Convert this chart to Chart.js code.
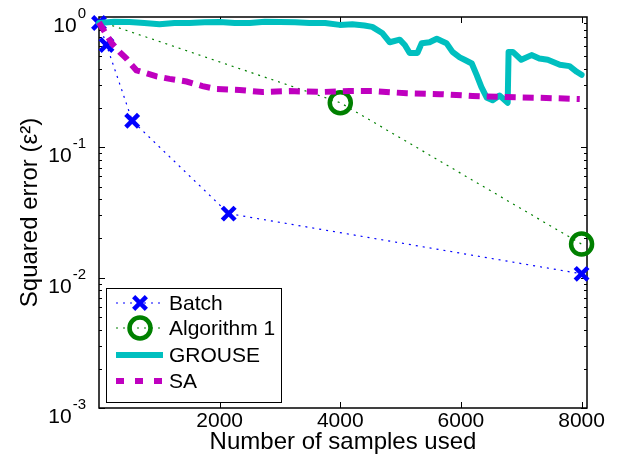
<!DOCTYPE html>
<html>
<head>
<meta charset="utf-8">
<script src="https://cdn.jsdelivr.net/npm/chart.js@4.4.1/dist/chart.umd.min.js"></script>
<style>
  body { margin: 0; background: #fff; }
  #wrap { width: 617px; height: 459px; }
</style>
</head>
<body>
<div id="wrap"><canvas id="myChart" width="617" height="459"></canvas></div>
<script>
// data
const batchX = [0, 124, 550, 2150, 8000];
const batchY = [0.90, 0.61, 0.16, 0.031, 0.0107];

const algX = [0, 4000, 8000];
const algY = [0.93, 0.22, 0.0181];
// the first point of Algorithm 1 has no visible marker
const algMarks = [0, 1, 1];

const grouseX = [0, 250, 506, 750, 1003, 1250, 1500, 1750, 2000, 2250, 2500, 2750, 3000, 3250, 3490, 3750, 3990, 4200, 4400, 4530, 4700, 4820, 4985, 5070, 5150, 5280, 5350, 5480, 5600, 5760, 5860, 5980, 6060, 6180, 6260, 6340, 6430, 6525, 6640, 6775, 6790, 6860, 7000, 7170, 7300, 7440, 7640, 7800, 7920, 8000];
const grouseY = [0.90, 0.92, 0.915, 0.90, 0.88, 0.90, 0.90, 0.91, 0.915, 0.90, 0.90, 0.92, 0.915, 0.91, 0.90, 0.90, 0.87, 0.88, 0.86, 0.84, 0.75, 0.64, 0.67, 0.61, 0.53, 0.53, 0.63, 0.64, 0.68, 0.63, 0.54, 0.49, 0.47, 0.44, 0.36, 0.29, 0.24, 0.23, 0.25, 0.22, 0.54, 0.54, 0.47, 0.51, 0.48, 0.47, 0.43, 0.42, 0.38, 0.36];

const saX = [0, 124, 224, 340, 456, 540, 620, 788, 954, 1170, 1450, 1716, 1950, 2330, 2710, 3160, 3700, 4150, 4540, 5100, 5650, 6190, 6760, 7310, 7970];
const saY = [0.91, 0.73, 0.62, 0.54, 0.48, 0.43, 0.39, 0.37, 0.35, 0.335, 0.32, 0.295, 0.28, 0.275, 0.266, 0.27, 0.266, 0.27, 0.27, 0.26, 0.256, 0.248, 0.243, 0.24, 0.235];

const xTicks = [2000, 4000, 6000, 8000];
const yTicks = [1, 0.1, 0.01, 0.001];
const yExponents = ['0', '-1', '-2', '-3'];

const seriesNames = ['Batch', 'Algorithm 1', 'GROUSE', 'SA'];

const FONT = "'Liberation Sans', Arial, Helvetica, sans-serif";
const MARK_X = 9, MARK_O = 10.5;

function pts(xs, ys) {
    return xs.map(function(v, i) { return {x: v, y: ys[i]}; });
}

// box, inward ticks and 10^n labels like matlab
const matlabAxes = {
    id: 'matlabAxes',
    beforeDatasetsDraw(chart) {
        const ctx = chart.ctx;
        const a = chart.chartArea;
        const x = chart.scales.x, y = chart.scales.y;
        ctx.save();
        ctx.strokeStyle = '#000';
        ctx.lineWidth = 1;
        function seg(x1, y1, x2, y2) {
            ctx.beginPath(); ctx.moveTo(x1, y1); ctx.lineTo(x2, y2); ctx.stroke();
        }
        xTicks.forEach(function(v) {
            const px = Math.round(x.getPixelForValue(v)) + 0.5;
            seg(px, a.bottom, px, a.bottom - 6);
            seg(px, a.top, px, a.top + 6);
        });
        for (let d = -3; d < 0; d++) {
            for (let m = 1; m < 10; m++) {
                const py = Math.round(y.getPixelForValue(m * Math.pow(10, d))) + 0.5;
                const len = m === 1 ? 6 : 3;
                seg(a.left, py, a.left + len, py);
                seg(a.right, py, a.right - len, py);
            }
        }
        ctx.lineWidth = 1.5;
        ctx.strokeRect(a.left, a.top, a.right - a.left, a.bottom - a.top);

        // y labels
        ctx.fillStyle = '#000';
        ctx.textBaseline = 'alphabetic';
        ctx.textAlign = 'left';
        yTicks.forEach(function(v, i) {
            const py = y.getPixelForValue(v);
            ctx.font = '21px ' + FONT;
            const wb = ctx.measureText('10').width;
            ctx.font = '15px ' + FONT;
            const we = ctx.measureText(yExponents[i]).width;
            const x0 = a.left - 13 - wb - we - 1;
            ctx.font = '21px ' + FONT;
            ctx.fillText('10', x0, py + 15);
            ctx.font = '15px ' + FONT;
            ctx.fillText(yExponents[i], x0 + wb + 1, py + 1);
        });
        ctx.restore();
    }
};

const boxLegend = {
    id: 'boxLegend',
    afterDatasetsDraw(chart) {
        const ctx = chart.ctx;
        const left = 106, top = 288, right = 281, bottom = 402;
        const rows = [303, 328, 355, 381];
        const marks = [MARK_X, MARK_O, 0, 0];
        ctx.save();
        ctx.fillStyle = '#fff';
        ctx.fillRect(left, top, right - left, bottom - top);
        ctx.strokeStyle = '#000';
        ctx.lineWidth = 1;
        ctx.strokeRect(left + 0.5, top + 0.5, right - left, bottom - top);
        chart.data.datasets.forEach(function(ds, i) {
            const yy = rows[i];
            ctx.save();
            ctx.strokeStyle = ds.borderColor;
            ctx.lineWidth = ds.borderWidth;
            ctx.setLineDash(i === 3 ? [8, 11] : (ds.borderDash || []));
            ctx.beginPath(); ctx.moveTo(116, yy); ctx.lineTo(163, yy); ctx.stroke();
            ctx.restore();
            if (marks[i] > 0) {
                ctx.save();
                ctx.strokeStyle = ds.pointBorderColor;
                ctx.fillStyle = 'rgba(0,0,0,0)';
                ctx.lineWidth = ds.pointBorderWidth;
                Chart.helpers.drawPoint(ctx, {pointStyle: ds.pointStyle, radius: marks[i], borderWidth: ds.pointBorderWidth, rotation: 0}, 140, yy);
                ctx.restore();
            }
            ctx.fillStyle = '#000';
            ctx.font = '21px ' + FONT;
            ctx.textBaseline = 'middle';
            ctx.textAlign = 'left';
            ctx.fillText(seriesNames[i], 169, yy + 1);
        });
        ctx.restore();
    }
};

const ctx = document.getElementById('myChart').getContext('2d');
const myChart = new Chart(ctx, {
    type: 'line',
    data: {
        datasets: [{
            label: seriesNames[0],
            data: pts(batchX, batchY),
            borderColor: '#0000ff',
            borderWidth: 1.2,
            borderDash: [2, 5],
            pointStyle: 'crossRot',
            pointRadius: MARK_X,
            pointBorderWidth: 4.5,
            pointBorderColor: '#0000ff',
            pointBackgroundColor: 'rgba(0,0,0,0)',
            order: 4,
            clip: false
        }, {
            label: seriesNames[1],
            data: pts(algX, algY),
            borderColor: '#008000',
            borderWidth: 1.2,
            borderDash: [2, 5],
            pointStyle: 'circle',
            pointRadius: algMarks.map(function(m) { return m * MARK_O; }),
            pointBorderWidth: 4.5,
            pointBorderColor: '#008000',
            pointBackgroundColor: 'rgba(0,0,0,0)',
            order: 3,
            clip: false
        }, {
            label: seriesNames[2],
            data: pts(grouseX, grouseY),
            borderColor: '#00bfbf',
            borderWidth: 6,
            pointRadius: 0,
            borderJoinStyle: 'round',
            borderCapStyle: 'round',
            order: 2,
            clip: false
        }, {
            label: seriesNames[3],
            data: pts(saX, saY),
            borderColor: '#bf00bf',
            borderWidth: 6,
            borderDash: [11, 7],
            pointRadius: 0,
            order: 1,
            clip: false
        }]
    },
    options: {
        responsive: false,
        animation: false,
        devicePixelRatio: 1,
        layout: { padding: { top: 17, right: 30, left: 0, bottom: 0 } },
        plugins: {
            legend: { display: false },
            tooltip: { enabled: false }
        },
        elements: { line: { tension: 0 } },
        scales: {
            x: {
                type: 'linear',
                min: 0,
                max: 8090,
                grid: { display: false, drawTicks: false },
                border: { display: false },
                afterBuildTicks: function(scale) {
                    scale.ticks = xTicks.map(function(v) { return {value: v}; });
                },
                afterFit: function(scale) { scale.height = 51; },
                ticks: {
                    color: '#000',
                    padding: 1,
                    maxRotation: 0,
                    font: { family: FONT, size: 21 },
                    callback: function(v) { return String(v); }
                },
                title: {
                    display: true,
                    text: 'Number of samples used',
                    color: '#000',
                    font: { family: FONT, size: 24 },
                    padding: { top: 0, bottom: 2 }
                }
            },
            y: {
                type: 'logarithmic',
                min: 0.001,
                max: 1,
                grid: { display: false, drawTicks: false },
                border: { display: false },
                ticks: { display: false },
                afterFit: function(scale) { scale.width = 99; },
                title: {
                    display: true,
                    text: 'Squared error (ε²)',
                    color: '#000',
                    font: { family: FONT, size: 24 },
                    padding: { top: 16, bottom: 0 }
                }
            }
        }
    },
    plugins: [matlabAxes, boxLegend]
});
</script>
</body>
</html>
